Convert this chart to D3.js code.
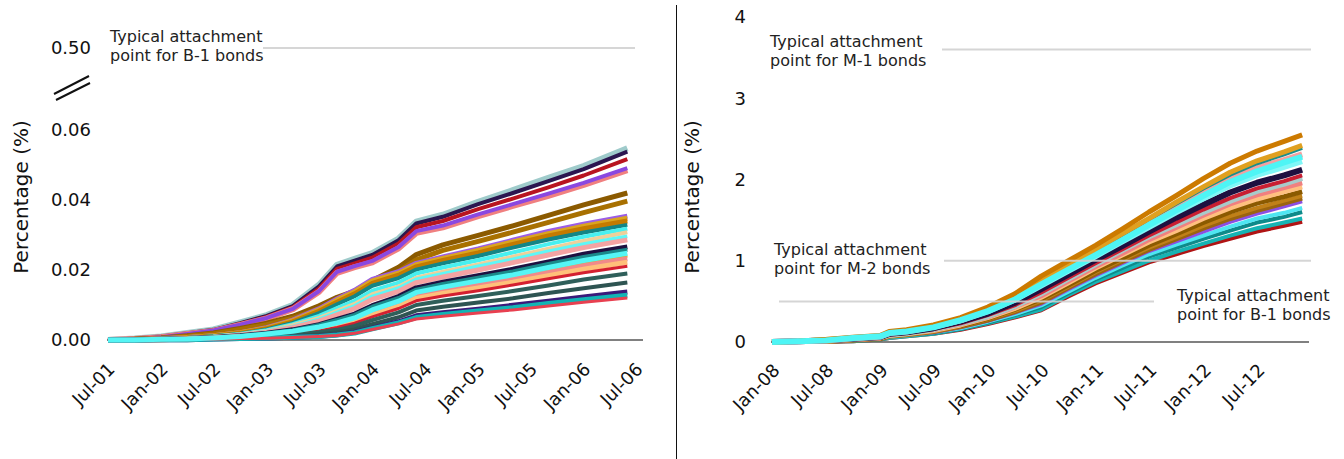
<!DOCTYPE html>
<html>
<head>
<meta charset="utf-8">
<script src="https://cdn.jsdelivr.net/npm/d3@7"></script>
<style>
  body { margin: 0; background: #fff; }
  svg { font-family: "DejaVu Sans", sans-serif; }
</style>
</head>
<body>
<div id="chart"></div>
<script>
// ---- data ----
// left panel: months after Jul-01, cumulative loss (%)
const leftMonths = [0, 3, 6, 9, 12, 15, 18, 21, 24, 26, 28, 30, 33, 35, 38, 42, 46, 50, 54, 59];
const leftSeries = [
  [0, .0004, .0010, .0020, .0030, .0050, .0071, .0100, .0158, .0215, .0232, .0248, .0290, .0338, .0358, .0395, .0428, .0463, .0497, .0548],
  [0, .0004, .0010, .0019, .0029, .0048, .0069, .0097, .0153, .0210, .0227, .0243, .0285, .0333, .0352, .0388, .0420, .0454, .0488, .0538],
  [0, .0003, .0009, .0018, .0028, .0046, .0066, .0093, .0147, .0203, .0219, .0235, .0276, .0322, .0340, .0374, .0404, .0436, .0470, .0517],
  [0, .0003, .0008, .0017, .0026, .0043, .0062, .0088, .0138, .0192, .0208, .0222, .0262, .0306, .0322, .0354, .0383, .0412, .0443, .0485],
  [0, .0003, .0008, .0017, .0027, .0044, .0063, .0089, .0140, .0195, .0211, .0226, .0266, .0311, .0327, .0359, .0388, .0418, .0449, .0491],
  [0, .0002, .0006, .0012, .0020, .0033, .0048, .0068, .0098, .0122, .0140, .0170, .0208, .0244, .0272, .0299, .0326, .0356, .0386, .0420],
  [0, .0002, .0005, .0011, .0018, .0030, .0044, .0062, .0090, .0113, .0130, .0159, .0196, .0229, .0256, .0282, .0308, .0336, .0364, .0397],
  [0, .0001, .0004, .0007, .0012, .0021, .0035, .0057, .0089, .0117, .0142, .0173, .0195, .0219, .0237, .0260, .0285, .0310, .0331, .0354],
  [0, .0001, .0003, .0007, .0012, .0021, .0034, .0055, .0086, .0114, .0138, .0169, .0191, .0215, .0233, .0256, .0280, .0304, .0325, .0348],
  [0, .0001, .0003, .0006, .0011, .0019, .0032, .0052, .0082, .0108, .0132, .0162, .0185, .0209, .0227, .0249, .0273, .0297, .0318, .0340],
  [0, .0001, .0003, .0006, .0011, .0018, .0030, .0049, .0077, .0102, .0125, .0155, .0177, .0201, .0219, .0240, .0264, .0287, .0307, .0329],
  [0, .0001, .0003, .0006, .0010, .0017, .0028, .0045, .0069, .0091, .0112, .0141, .0164, .0190, .0207, .0228, .0250, .0274, .0295, .0318],
  [0, .0001, .0003, .0005, .0009, .0016, .0026, .0042, .0063, .0083, .0103, .0131, .0153, .0178, .0195, .0216, .0238, .0261, .0283, .0308],
  [0, .0001, .0003, .0005, .0009, .0015, .0025, .0038, .0059, .0078, .0097, .0124, .0148, .0173, .0189, .0210, .0230, .0253, .0274, .0296],
  [0, .0001, .0002, .0004, .0008, .0014, .0022, .0035, .0054, .0072, .0090, .0116, .0139, .0164, .0180, .0200, .0221, .0243, .0264, .0286],
  [0, 0, .0002, .0004, .0007, .0012, .0019, .0029, .0044, .0059, .0074, .0098, .0124, .0149, .0165, .0184, .0202, .0223, .0245, .0266],
  [0, 0, .0002, .0004, .0007, .0012, .0019, .0028, .0043, .0057, .0072, .0095, .0120, .0144, .0160, .0178, .0196, .0217, .0237, .0258],
  [0, 0, .0002, .0003, .0006, .0010, .0016, .0024, .0036, .0048, .0062, .0083, .0108, .0132, .0147, .0164, .0181, .0201, .0221, .0241],
  [0, 0, .0001, .0003, .0006, .0009, .0015, .0022, .0033, .0044, .0057, .0078, .0102, .0125, .0140, .0157, .0174, .0193, .0212, .0232],
  [0, 0, .0001, .0003, .0005, .0009, .0014, .0020, .0029, .0039, .0052, .0071, .0096, .0119, .0133, .0149, .0165, .0184, .0202, .0222],
  [0, 0, .0001, .0003, .0005, .0008, .0013, .0018, .0026, .0036, .0048, .0066, .0090, .0112, .0126, .0141, .0157, .0175, .0192, .0211],
  [0, 0, .0001, .0002, .0004, .0007, .0011, .0015, .0022, .0029, .0040, .0057, .0079, .0100, .0112, .0126, .0140, .0156, .0173, .0190],
  [0, 0, .0001, .0002, .0004, .0005, .0008, .0011, .0016, .0022, .0030, .0045, .0065, .0084, .0095, .0107, .0119, .0134, .0148, .0164],
  [0, 0, .0001, .0001, .0003, .0004, .0006, .0008, .0011, .0015, .0022, .0034, .0052, .0069, .0078, .0088, .0099, .0111, .0123, .0137],
  [0, 0, .0001, .0001, .0003, .0004, .0006, .0008, .0010, .0014, .0020, .0032, .0049, .0064, .0073, .0083, .0092, .0104, .0115, .0128],
  [0, 0, .0001, .0001, .0002, .0004, .0005, .0007, .0010, .0013, .0019, .0030, .0046, .0060, .0068, .0077, .0086, .0097, .0108, .0120],
  [0, 0, .0002, .0003, .0006, .0010, .0017, .0025, .0037, .0049, .0063, .0086, .0111, .0136, .0151, .0169, .0186, .0207, .0227, .0248]
];

// right panel: months after Jan-08, cumulative loss (%)
const rightMonths = [0, 3, 6, 9, 12, 13, 15, 18, 21, 24, 27, 30, 33, 36, 39, 42, 45, 48, 51, 54, 57, 59];
const rightSeries = [
  [0, 0, 0, .01, .03, .05, .07, .10, .15, .22, .30, .39, .56, .72, .85, .98, 1.08, 1.18, 1.27, 1.36, 1.43, 1.48],
  [0, 0, .01, .01, .03, .05, .07, .10, .16, .23, .31, .40, .58, .74, .87, 1.00, 1.11, 1.21, 1.31, 1.40, 1.47, 1.52],
  [0, 0, .01, .02, .04, .06, .08, .11, .16, .24, .33, .43, .60, .77, .91, 1.05, 1.16, 1.27, 1.37, 1.47, 1.54, 1.60],
  [0, 0, .01, .02, .04, .06, .08, .12, .17, .25, .34, .45, .62, .79, .94, 1.08, 1.20, 1.31, 1.42, 1.52, 1.59, 1.65],
  [0, .01, .01, .02, .04, .07, .09, .12, .18, .26, .36, .47, .65, .82, .97, 1.12, 1.24, 1.36, 1.48, 1.58, 1.67, 1.73],
  [0, .01, .01, .02, .04, .07, .09, .13, .19, .27, .37, .49, .67, .84, .99, 1.14, 1.27, 1.40, 1.52, 1.62, 1.71, 1.77],
  [0, .01, .01, .03, .05, .07, .09, .13, .19, .28, .38, .51, .68, .86, 1.01, 1.16, 1.29, 1.43, 1.55, 1.65, 1.74, 1.80],
  [0, .01, .01, .03, .05, .08, .10, .14, .20, .29, .40, .53, .70, .88, 1.03, 1.19, 1.33, 1.47, 1.60, 1.71, 1.79, 1.85],
  [0, .01, .01, .03, .05, .08, .10, .14, .21, .30, .41, .55, .73, .91, 1.07, 1.23, 1.37, 1.52, 1.65, 1.76, 1.85, 1.91],
  [0, .01, .02, .03, .05, .09, .11, .15, .22, .31, .43, .57, .75, .93, 1.09, 1.26, 1.41, 1.56, 1.70, 1.81, 1.90, 1.96],
  [0, .01, .02, .04, .06, .09, .11, .16, .23, .32, .44, .60, .78, .96, 1.13, 1.30, 1.45, 1.60, 1.74, 1.86, 1.95, 2.02],
  [0, .01, .02, .04, .06, .09, .11, .16, .23, .33, .45, .61, .79, .97, 1.14, 1.31, 1.47, 1.63, 1.77, 1.89, 1.98, 2.05],
  [0, .01, .02, .04, .06, .10, .12, .17, .25, .35, .48, .65, .83, 1.01, 1.18, 1.36, 1.53, 1.69, 1.84, 1.96, 2.05, 2.12],
  [0, .01, .02, .04, .06, .11, .13, .18, .26, .37, .51, .69, .87, 1.05, 1.23, 1.41, 1.59, 1.76, 1.92, 2.05, 2.15, 2.22],
  [0, .01, .02, .05, .07, .11, .13, .19, .27, .39, .53, .72, .91, 1.09, 1.28, 1.47, 1.65, 1.83, 2.00, 2.14, 2.24, 2.31],
  [0, .01, .03, .05, .07, .12, .14, .20, .28, .40, .55, .75, .94, 1.13, 1.32, 1.51, 1.70, 1.89, 2.06, 2.20, 2.31, 2.39],
  [0, .01, .03, .05, .07, .12, .14, .20, .29, .41, .56, .76, .95, 1.14, 1.33, 1.52, 1.72, 1.91, 2.09, 2.23, 2.34, 2.42],
  [0, .01, .03, .06, .08, .13, .15, .21, .30, .43, .59, .81, 1.00, 1.19, 1.39, 1.60, 1.80, 2.01, 2.20, 2.35, 2.47, 2.55],
  [0, .01, .02, .05, .07, .11, .13, .18, .27, .38, .52, .71, .89, 1.07, 1.25, 1.44, 1.62, 1.80, 1.97, 2.10, 2.21, 2.28]
];

const leftTicks = [0, 0.02, 0.04, 0.06];
const leftBreakTick = 0.5;
const rightTicks = [0, 1, 2, 3, 4];
const leftNote = ["Typical attachment", "point for B-1 bonds"];
const rightNotes = [
  { value: 3.6, lines: ["Typical attachment", "point for M-1 bonds"] },
  { value: 1.0, lines: ["Typical attachment", "point for M-2 bonds"] },
  { value: 0.5, lines: ["Typical attachment", "point for B-1 bonds"] }
];

// ---- styles ----
const leftColors = ["#9fcbcb", "#2b1650", "#b81420", "#f08080", "#8a48e0", "#8b5a00", "#a87000",
  "#9b5de5", "#daa520", "#c47a00", "#138585", "#48f0f0", "#eed09a", "#5ef7f7", "#f4a3a3", "#1e1040",
  "#1a8a8a", "#e5a100", "#f08a8a", "#ffc07a", "#d42030", "#2f5f5a", "#2e5452", "#3a1a7a", "#12b5b5",
  "#e84050", "#55f5f5"];
const leftWidths = [6, 4, 4, 6, 4, 5, 5, 5, 5, 5, 4, 4, 4, 4, 5, 5, 4, 4, 5, 5, 3, 4, 4, 5, 5, 3, 5];
const rightColors = ["#b01414", "#16b4b4", "#0e8a8a", "#4fe6f2", "#8b4fe3", "#9a6410", "#c08018",
  "#8b5a00", "#ffc080", "#f08080", "#a8caca", "#c81e32", "#1e1040", "#7ff7f7", "#f4a0a0", "#1a8c8c",
  "#e0a020", "#cc7a00", "#4ef5f5"];
const rightWidths = [4, 4, 4, 4, 4, 5, 4, 5, 5, 5, 6, 4, 6, 5, 6, 4, 5, 5, 6];

const W = 1344, H = 459;
const svg = d3.select("#chart").append("svg").attr("width", W).attr("height", H);
const fmt = d3.timeFormat("%b-%y");

function drawPanel(cfg) {
  const g = svg.append("g");
  const x = d3.scaleTime().domain(cfg.xDomain).range(cfg.xRange);
  const y = d3.scaleLinear().domain(cfg.yDomain).range(cfg.yRange);

  // baseline
  g.append("line")
    .attr("x1", cfg.baseX[0]).attr("x2", cfg.baseX[1])
    .attr("y1", y(0)).attr("y2", y(0))
    .attr("stroke", "#808080").attr("stroke-width", 2);

  // lines
  const line = d3.line()
    .x((d) => x(d3.timeMonth.offset(cfg.start, d[0])))
    .y((d) => y(d[1]));
  g.append("g").selectAll("path")
    .data(cfg.series)
    .join("path")
    .attr("d", (s) => line(s.map((v, i) => [cfg.months[i], v])))
    .attr("fill", "none")
    .attr("stroke", (d, i) => cfg.colors[i])
    .attr("stroke-width", (d, i) => cfg.widths[i])
    .attr("stroke-linejoin", "round");

  // y axis (labels only)
  const yAxis = g.append("g")
    .attr("transform", `translate(${cfg.yLabelX},0)`)
    .call(d3.axisLeft(y).tickValues(cfg.yTicks).tickFormat(cfg.yFormat).tickSize(0).tickPadding(0));
  yAxis.select(".domain").remove();
  yAxis.selectAll("text").attr("font-size", 18).attr("fill", "#111").attr("font-family", "DejaVu Sans");

  // x axis (rotated labels)
  const xAxis = g.append("g")
    .attr("transform", `translate(0,${y(0)})`)
    .call(d3.axisBottom(x).ticks(d3.timeMonth.every(6)).tickFormat(fmt).tickSize(0));
  xAxis.select(".domain").remove();
  xAxis.selectAll("text")
    .attr("font-size", 18).attr("fill", "#111").attr("font-family", "DejaVu Sans")
    .attr("x", 0).attr("y", 0).attr("dy", "0.35em")
    .attr("text-anchor", "end")
    .attr("transform", `translate(${cfg.xLabelOff[0]},${cfg.xLabelOff[1]}) rotate(-45)`);

  // y title
  g.append("text")
    .attr("transform", `translate(${cfg.titleX},197) rotate(-90)`)
    .attr("text-anchor", "middle")
    .attr("font-size", 20).attr("fill", "#111")
    .text("Percentage (%)");

  return { g, x, y };
}

function note(g, xPos, yPos, lines) {
  const t = g.append("text").attr("font-size", 16).attr("fill", "#222");
  lines.forEach((l, i) => {
    t.append("tspan").attr("x", xPos).attr("y", yPos + i * 19).text(l);
  });
}

// ---- left panel ----
const left = drawPanel({
  start: new Date(2001, 6, 1),
  xDomain: [new Date(2001, 6, 1), new Date(2006, 6, 1)],
  xRange: [108, 636],
  yDomain: [0, 0.06],
  yRange: [340, 130],
  yTicks: leftTicks,
  yFormat: d3.format(".2f"),
  yLabelX: 91,
  baseX: [107, 643],
  months: leftMonths,
  series: leftSeries,
  colors: leftColors,
  widths: leftWidths,
  xLabelOff: [3, 26],
  titleX: 28
});

// broken axis part: 0.50
const yBreak = d3.scaleLinear().domain([0.06, 0.5]).range([130, 48]);
left.g.append("text")
  .attr("x", 91).attr("y", yBreak(leftBreakTick)).attr("dy", "0.32em")
  .attr("text-anchor", "end").attr("font-size", 18).attr("fill", "#111")
  .text(d3.format(".2f")(leftBreakTick));
left.g.append("line")
  .attr("x1", 263).attr("x2", 635)
  .attr("y1", yBreak(leftBreakTick)).attr("y2", yBreak(leftBreakTick))
  .attr("stroke", "#d6d6d6").attr("stroke-width", 2);
[[54, 94, 89, 76], [56, 100, 90, 83]].forEach(([x1, y1, x2, y2]) => {
  left.g.append("line")
    .attr("x1", x1).attr("y1", y1).attr("x2", x2).attr("y2", y2)
    .attr("stroke", "#111").attr("stroke-width", 2);
});
note(left.g, 110, 42, leftNote);

// divider
svg.append("line")
  .attr("x1", 676.5).attr("x2", 676.5).attr("y1", 5).attr("y2", H)
  .attr("stroke", "#111").attr("stroke-width", 1);

// ---- right panel ----
const right = drawPanel({
  start: new Date(2008, 0, 1),
  xDomain: [new Date(2008, 0, 1), new Date(2012, 6, 1)],
  xRange: [772, 1257],
  yDomain: [0, 4],
  yRange: [342, 17],
  yTicks: rightTicks,
  yFormat: d3.format("d"),
  yLabelX: 746,
  baseX: [771, 1309],
  months: rightMonths,
  series: rightSeries,
  colors: rightColors,
  widths: rightWidths,
  xLabelOff: [4, 25],
  titleX: 699
});

// reference lines drawn over the data
const refX = [[942, 1311], [944, 1311], [779, 1154]];
const notePos = [[770, 47], [774, 255], [1177, 301]];
rightNotes.forEach((n, i) => {
  right.g.append("line")
    .attr("x1", refX[i][0]).attr("x2", refX[i][1])
    .attr("y1", right.y(n.value)).attr("y2", right.y(n.value))
    .attr("stroke", "#d0d0d0").attr("stroke-width", 2).attr("stroke-opacity", 0.9);
  note(right.g, notePos[i][0], notePos[i][1], n.lines);
});
</script>
</body>
</html>
